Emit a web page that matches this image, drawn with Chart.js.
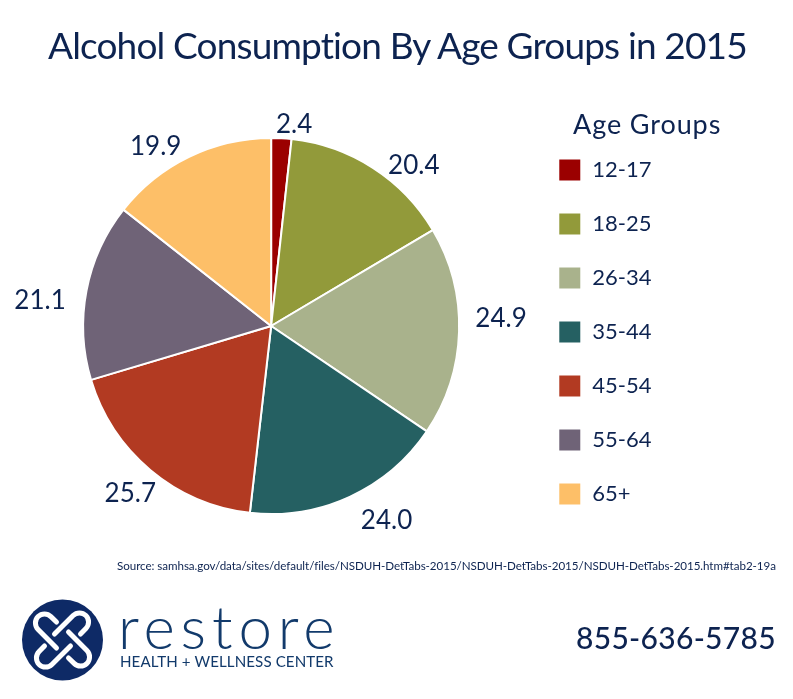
<!DOCTYPE html>
<html><head><meta charset="utf-8">
<script src="https://cdn.jsdelivr.net/npm/chart.js@4"></script>
<style>
html,body{margin:0;padding:0;background:#fff;}
#wrap{position:relative;width:793px;height:699px;overflow:hidden;font-family:Lato,sans-serif;color:#0d2350;font-variant-ligatures:none;}
canvas{position:absolute;left:0;top:0;}
.t{position:absolute;white-space:nowrap;line-height:1;}
</style></head><body>
<div id="wrap">
<canvas id="c" width="793" height="699"></canvas>
<div class="t" id="title" style="left:48px;top:26px;font-size:37px;letter-spacing:-.85px">Alcohol Consumption By Age Groups in 2015</div>
<div class="t" style="left:573px;top:110px;font-size:27px;letter-spacing:.9px">Age Groups</div>
<div class="t" style="left:117px;top:560px;font-size:11.6px;letter-spacing:-.05px">Source: samhsa.gov/data/sites/default/files/NSDUH-DetTabs-2015/NSDUH-DetTabs-2015/NSDUH-DetTabs-2015.htm#tab2-19a</div>
<svg style="position:absolute;left:20px;top:598px" width="86" height="84" viewBox="-42.500 -42 86 84">
<circle cx="0" cy="0" r="40.500" fill="#0e2a66"/>
<g fill="none" stroke="#fff" stroke-width="5" stroke-linecap="round">
<path id="lk" d="M -6 -18 L -11.600 -23.400 A 9 9 0 0 0 -24.400 -10.600 L -6 8"/>
<use href="#lk" transform="rotate(90)"/>
<use href="#lk" transform="rotate(180)"/>
<use href="#lk" transform="rotate(270)"/>
</g></svg>
<div class="t" style="left:118px;top:596px;font-size:60px;font-weight:300;letter-spacing:5.900px;color:#123a6b;">restore</div>
<div class="t" style="left:120px;top:654px;font-size:15.1px;color:#123a6b;letter-spacing:.1px">HEALTH + WELLNESS CENTER</div>
<div class="t" style="left:576px;top:622px;font-size:30px;font-weight:500;letter-spacing:.3px">855-636-5785</div>
</div>
<script>
const categories = ['12-17','18-25','26-34','35-44','45-54','55-64','65+'];
const values = [2.4,20.4,24.9,24.0,25.7,21.1,19.9];
const valueLabels = ['2.4','20.4','24.9','24.0','25.7','21.1','19.9'];
const sliceColors = ['#9b0000','#929a3a','#a9b28c','#256062','#b23a22','#6f6377','#fdbf68'];
const INK = '#0d2350';

const labelNudge = [[11,19],[23,25],[9,-14],[23,-6],[1,-2],[-14,16],[-19,19]];
const valueLabelPlugin = {
  id:'valueLabels',
  afterLayout(chart){ chart.legend.top += 6; chart.legend.bottom += 6; },
  afterDatasetsDraw(chart){
    const ctx = chart.ctx;
    const arcs = chart.getDatasetMeta(0).data;
    ctx.save();
    ctx.font = '26px Lato, sans-serif';
    ctx.fillStyle = INK;
    ctx.textAlign = 'center';
    ctx.textBaseline = 'middle';
    arcs.forEach((a,i)=>{
      const mid = (a.startAngle + a.endAngle)/2;
      const r = a.outerRadius + 33;
      ctx.fillText(valueLabels[i], a.x + Math.cos(mid)*r + labelNudge[i][0], a.y + Math.sin(mid)*r + labelNudge[i][1]);
    });
    ctx.restore();
  }
};
new Chart(document.getElementById('c'),{
  type:'pie',
  data:{labels:categories,datasets:[{data:values,backgroundColor:sliceColors,borderColor:'#ffffff',borderWidth:2,radius:188}]},
  plugins:[valueLabelPlugin],
  options:{
    responsive:false,animation:false,
    layout:{padding:{left:15,right:131.500,top:0,bottom:47}},
    plugins:{
      tooltip:{enabled:false},
      title:{display:false},
      legend:{display:true,position:'right',align:'center',
        labels:{color:INK,font:{family:'Lato, sans-serif',size:22},boxWidth:23,boxHeight:23,padding:31}}
    }
  }
});
</script>
</body></html>
